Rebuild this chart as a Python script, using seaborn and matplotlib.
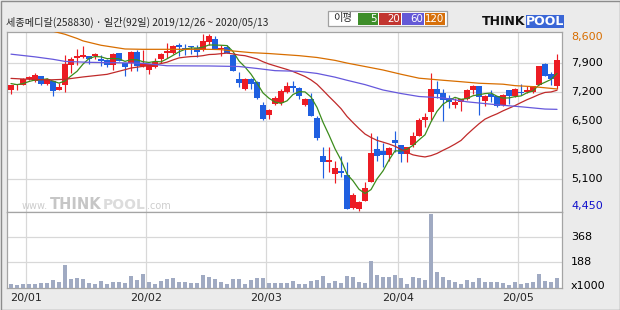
import numpy as np
import matplotlib
matplotlib.use("Agg")
import matplotlib.pyplot as plt
import seaborn as sns
from matplotlib.patches import Rectangle

# ---------------- data ----------------
open_ = [7255, 7370, 7376, 7520, 7473, 7594, 7400, 7465, 7255, 7376,
         7859, 8028, 8060, 8076, 8076, 7996, 7980, 7867, 8140, 7900,
         7900, 8173, 7835, 7738, 7803, 7996, 8157, 8140, 8342, 8261,
         8302, 8261, 8221, 8422, 8479, 8237, 8286, 8100, 7513, 7271,
         7513, 7457, 6893, 6652, 6917, 6950, 7215, 7352, 7296, 6893,
         7030, 6571, 5662, 5525, 5227, 5292, 5203, 4399, 4383, 4584,
         5042, 5830, 5783, 5686, 6048, 5928, 5702, 5927, 6145, 6531,
         6732, 7271, 7175, 7054, 6893, 6974, 7038, 7255, 7352, 6998,
         7159, 7110, 6893, 7255, 7110, 7199, 7215, 7215, 7376, 7875,
         7642, 7352]
high_ = [7376, 7400, 7537, 7594, 7658, 7594, 7537, 7465, 7416, 8100,
         8060, 8237, 8318, 8076, 8157, 8100, 8000, 8157, 8157, 7900,
         8189, 8221, 8221, 7875, 8020, 8157, 8382, 8342, 8382, 8366,
         8318, 8342, 8607, 8607, 8559, 8342, 8342, 8124, 7698, 7537,
         7537, 7481, 6974, 6789, 7110, 7271, 7457, 7481, 7320, 7054,
         7191, 6628, 5887, 5887, 5550, 5662, 5509, 4761, 4584, 5042,
         6209, 6145, 5967, 5887, 6273, 5928, 5887, 6249, 6571, 6692,
         7674, 7481, 7271, 7135, 7054, 7030, 7271, 7376, 7352, 7135,
         7255, 7110, 7159, 7255, 7296, 7400, 7352, 7352, 7835, 7900,
         7698, 8124]
low_ = [7151, 7255, 7370, 7497, 7457, 7376, 7376, 7118, 7255, 7215,
        7658, 7867, 8028, 7883, 7996, 7835, 7819, 7738, 7964, 7601,
        7722, 7722, 7803, 7634, 7780, 7915, 8020, 8124, 8076, 8100,
        8124, 8060, 8205, 8342, 8237, 8076, 8140, 7722, 7320, 7255,
        7271, 7030, 6531, 6547, 6893, 6893, 7175, 7215, 7030, 6869,
        6627, 6048, 5123, 5284, 5018, 5163, 4383, 4383, 4342, 4584,
        5042, 5549, 5388, 5549, 5767, 5525, 5525, 5887, 6145, 6354,
        6531, 7054, 6515, 6813, 6813, 6756, 7014, 7159, 6652, 6869,
        6974, 6837, 6869, 6917, 7094, 7135, 7191, 7191, 7376, 7594,
        7376, 7271]
close_ = [7376, 7400, 7513, 7570, 7625, 7400, 7513, 7240, 7328, 7883,
          8004, 8076, 8108, 8004, 8124, 7964, 7859, 8124, 7964, 7819,
          8173, 7835, 7900, 7875, 7940, 8124, 8197, 8318, 8302, 8245,
          8286, 8181, 8438, 8559, 8237, 8261, 8140, 7722, 7416, 7513,
          7392, 7054, 6547, 6773, 7054, 7239, 7352, 7312, 7110, 7030,
          6627, 6089, 5525, 5565, 5380, 5260, 4383, 4721, 4544, 4882,
          5726, 5670, 5686, 5863, 5984, 5710, 5887, 6145, 6531, 6595,
          7271, 7159, 7014, 6974, 6974, 7030, 7255, 7352, 7094, 7110,
          7094, 6869, 7135, 7110, 7271, 7175, 7255, 7352, 7835, 7594,
          7513, 7980]
volume_k = [32, 24, 32, 32, 32, 39, 39, 60, 48, 168,
            70, 75, 68, 39, 32, 53, 32, 46, 46, 41,
            89, 60, 104, 46, 32, 53, 68, 75, 44, 46,
            36, 41, 96, 84, 68, 46, 34, 68, 68, 32,
            60, 75, 75, 41, 39, 36, 41, 53, 34, 34,
            53, 60, 89, 41, 53, 39, 89, 82, 46, 39,
            197, 96, 82, 82, 96, 75, 32, 82, 75, 60,
            536, 118, 82, 60, 46, 32, 60, 46, 75, 46,
            46, 46, 39, 24, 46, 32, 39, 46, 104, 53,
            46, 75]

# moving-average lines (candle index, value)
ma5_val = [7410, 7385, 7410, 7460, 7497, 7502, 7524, 7470, 7421, 7473,
           7594, 7706, 7880, 8015, 8063, 8055, 8012, 8015, 8007, 7946,
           7988, 7983, 7938, 7920, 7945, 7935, 8007, 8091, 8176, 8237,
           8270, 8266, 8290, 8342, 8340, 8335, 8327, 8184, 7955, 7810,
           7637, 7419, 7184, 7056, 6964, 6933, 6993, 7146, 7213, 7209,
           7086, 6834, 6476, 6167, 5837, 5564, 5223, 5062, 4858, 4758,
           4851, 5109, 5302, 5565, 5786, 5783, 5826, 5918, 6051, 6174,
           6486, 6740, 6914, 7003, 7078, 7030, 7049, 7117, 7141, 7168,
           7181, 7104, 7060, 7064, 7096, 7112, 7189, 7233, 7378, 7442,
           7510, 7655]
ma20_idx = [0, 2, 4, 6, 9, 12, 16] + list(range(19, 92))
ma20_val = [7535, 7520, 7510, 7497, 7513, 7570, 7633,
            7745, 7785, 7806, 7826, 7841, 7857, 7893, 7927, 7981, 8030,
            8048, 8062, 8067, 8084, 8111, 8117, 8132, 8146, 8126, 8098,
            8083, 8044, 8005, 7937, 7882, 7838, 7794, 7751, 7701, 7642,
            7581, 7498, 7393, 7248, 7098, 6955, 6805, 6617, 6467, 6324,
            6192, 6109, 6039, 5996, 5951, 5897, 5821, 5748, 5689, 5660,
            5639, 5671, 5724, 5799, 5869, 5949, 6037, 6181, 6313, 6440,
            6552, 6620, 6680, 6752, 6815, 6879, 6952, 7021, 7081, 7146,
            7196, 7208, 7249]
ma60_idx = [0, 4, 7, 9, 13, 18, 22, 26, 33, 38, 41, 44, 48, 51, 54, 56,
            59, 62, 65, 68, 72, 76, 81, 85, 89, 91]
ma60_val = [8120, 8055, 7996, 7945, 7923, 7912, 7900, 7840, 7835, 7822,
            7775, 7722, 7706, 7655, 7565, 7490, 7385, 7255, 7170, 7098,
            7065, 6970, 6898, 6850, 6795, 6788]
ma120_idx = [6, 9, 11, 12, 15, 19, 22, 33, 35, 37, 40, 43, 48, 51, 54, 56,
             59, 62, 65, 68, 72, 75, 78, 82, 84, 87, 91]
ma120_val = [8710, 8600, 8500, 8440, 8335, 8245, 8237, 8237, 8230, 8197,
             8157, 8135, 8084, 8040, 7970, 7905, 7822, 7738, 7635, 7540,
             7490, 7455, 7418, 7395, 7360, 7336, 7280]

month_start_idx = [3, 23, 43, 65, 85]
month_labels = ["20/01", "20/02", "20/03", "20/04", "20/05"]
price_grid = [7900, 7200, 6500, 5800, 5100]
price_labels = ["7,900", "7,200", "6,500", "5,800", "5,100"]
price_max, price_min = 8600, 4450
vol_grid = [188, 368]

title = "세종메디칼(258830) · 일간(92일) 2019/12/26 ~ 2020/05/13"
legend_periods = ["5", "20", "60", "120"]

# ---------------- style ----------------
sns.set_style("white")
plt.rcParams["font.family"] = ["DejaVu Sans"]
CJK = ["Noto Sans CJK KR", "DejaVu Sans"]

RED = "#ec1c24"
BLUE = "#1f5fe0"
GREEN = "#3c8c1c"
MARED = "#c02a2a"
PURPLE = "#6658dc"
ORANGE = "#d86e00"
GRID = "#d8d8d8"
SPINE = "#a4a4a4"
VOLC = "#a0aac2"

W, H = 620, 310
fig = plt.figure(figsize=(W / 100, H / 100), dpi=100)
fig.patch.set_facecolor("#ebebeb")


def fx(px):
    return px / W


def fy(py):
    return 1 - py / H


ax = fig.add_axes([fx(7), fy(212), fx(562) - fx(7), fy(32) - fy(212)])
axv = fig.add_axes([fx(7), fy(288.3), fx(562) - fx(7), fy(212) - fy(288.3)])

n = len(close_)
idx = np.arange(n)
o = np.array(open_, float)
c = np.array(close_, float)
h = np.array(high_, float)
l = np.array(low_, float)
cols = np.where(c >= o, RED, BLUE)

# grid
for v in price_grid:
    ax.axhline(v, color=GRID, lw=0.9, zorder=0)
for m in month_start_idx:
    ax.axvline(m - 0.5, color=GRID, lw=0.9, zorder=0)
    axv.axvline(m - 0.5, color=GRID, lw=0.9, zorder=0)
for v in vol_grid:
    axv.axhline(v, color=GRID, lw=0.9, zorder=0)

# watermark (faint site logo in the lower-left of the price panel)
wm_y = fy(209)
ax.text(fx(22), wm_y, "www.", transform=fig.transFigure, fontsize=7,
        color="#cdcdcd", zorder=1, va="baseline")
ax.text(fx(50), wm_y, "THINK", transform=fig.transFigure, fontsize=10.5,
        fontweight="bold", color="#c6c6c6", zorder=1, va="baseline")
ax.text(fx(103), wm_y, "POOL", transform=fig.transFigure, fontsize=10,
        fontweight="bold", color="#dcdcdc", zorder=1, va="baseline")
ax.text(fx(147), wm_y, ".com", transform=fig.transFigure, fontsize=7,
        color="#cdcdcd", zorder=1, va="baseline")

# candles
ax.vlines(idx, l, h, colors=cols, lw=0.85, zorder=3)
bottom = np.minimum(o, c)
height = np.maximum(np.abs(c - o), 26)
ax.bar(idx, height, bottom=bottom, width=0.84, color=cols, lw=0, zorder=4)

# moving averages
sns.lineplot(x=list(range(n)), y=ma5_val, ax=ax, color=GREEN, lw=0.9, zorder=5)
sns.lineplot(x=ma20_idx, y=ma20_val, ax=ax, color=MARED, lw=0.9, zorder=5)
sns.lineplot(x=ma60_idx, y=ma60_val, ax=ax, color=PURPLE, lw=0.9, zorder=5)
sns.lineplot(x=ma120_idx, y=ma120_val, ax=ax, color=ORANGE, lw=0.9, zorder=5)

ax.set_xlim(-0.667, 91.83)
ax.set_ylim(4310, 8655)
ax.set_xticks([])
ax.set_yticks([])
ax.set_xlabel("")
ax.set_ylabel("")

# price labels on right
lab_kw = dict(xycoords=("axes fraction", "data"), textcoords="offset points",
              ha="left", va="center", fontsize=8, annotation_clip=False)
ax.annotate("8,600", xy=(1, price_max), xytext=(6.5, -2.2), color=ORANGE, **lab_kw)
for v, s in zip(price_grid, price_labels):
    ax.annotate(s, xy=(1, v), xytext=(6.5, 0), color="black", **lab_kw)
ax.annotate("4,450", xy=(1, price_min), xytext=(6.5, 0), color="#1010cc", **lab_kw)

# volume
sns.barplot(x=list(range(n)), y=volume_k, ax=axv, color=VOLC, width=0.68,
            native_scale=True, errorbar=None, saturation=1, linewidth=0, zorder=3)
axv.set_xlim(-0.667, 91.83)
axv.set_ylim(0, 550)
axv.set_yticks([])
axv.set_xlabel("")
axv.set_ylabel("")
axv.set_xticks([m - 0.5 for m in month_start_idx])
axv.set_xticklabels(month_labels, fontsize=8)
axv.tick_params(axis="x", length=0, pad=3.2)
vkw = dict(xycoords=("axes fraction", "data"), textcoords="offset points",
           ha="left", va="center", fontsize=8, annotation_clip=False, color="black")
for v in vol_grid:
    axv.annotate(str(v), xy=(1, v), xytext=(6.5, 0), **vkw)
axv.annotate("x1000", xy=(1, 0), xytext=(6.5, 1.6), **vkw)

for a in (ax, axv):
    a.set_facecolor("white")
    for sp in a.spines.values():
        sp.set_color(SPINE)
        sp.set_linewidth(0.9)
        sp.set_visible(True)

# ---------------- header ----------------
fig.text(fx(6), fy(22), title, fontsize=7.3, family=CJK, va="center", ha="left")

fig.patches.append(Rectangle((fx(328), fy(26)), fx(447) - fx(328), fy(11) - fy(26),
                             transform=fig.transFigure, facecolor="white",
                             edgecolor="#a0a0a0", lw=0.9))
fig.text(fx(333), fy(18.5), "이평", fontsize=7.4, family=CJK, va="center", ha="left")
boxes = [(358, 378, "#3e8e2a"), (379, 401, "#c23530"), (402, 424, "#6459d6"),
         (425, 445, "#d7700a")]
for (x0, x1, bc), lab in zip(boxes, legend_periods):
    fig.patches.append(Rectangle((fx(x0), fy(25)), fx(x1) - fx(x0), fy(13) - fy(25),
                                 transform=fig.transFigure, facecolor=bc, lw=0))
    fig.text(fx(x1 - 1), fy(19), lab, fontsize=7.4, color="white", va="center", ha="right")

# logo
fig.text(fx(482), fy(21.5), "THINK", fontsize=9, fontweight="heavy", color="#111111",
         va="center", ha="left")
fig.patches.append(Rectangle((fx(526), fy(27.5)), fx(564) - fx(526), fy(15) - fy(27.5),
                             transform=fig.transFigure, facecolor="#3a66d6", lw=0))
fig.text(fx(545), fy(21.5), "POOL", fontsize=9, fontweight="heavy", color="white",
         va="center", ha="center")

# outer frame
fig.patches.append(Rectangle((0.5 / W, 0.5 / H), 1 - 1.0 / W, 1 - 1.0 / H,
                             transform=fig.transFigure, facecolor="none",
                             edgecolor="#8c8c8c", lw=1.0))

fig.savefig("out.png", dpi=100, facecolor=fig.get_facecolor())
